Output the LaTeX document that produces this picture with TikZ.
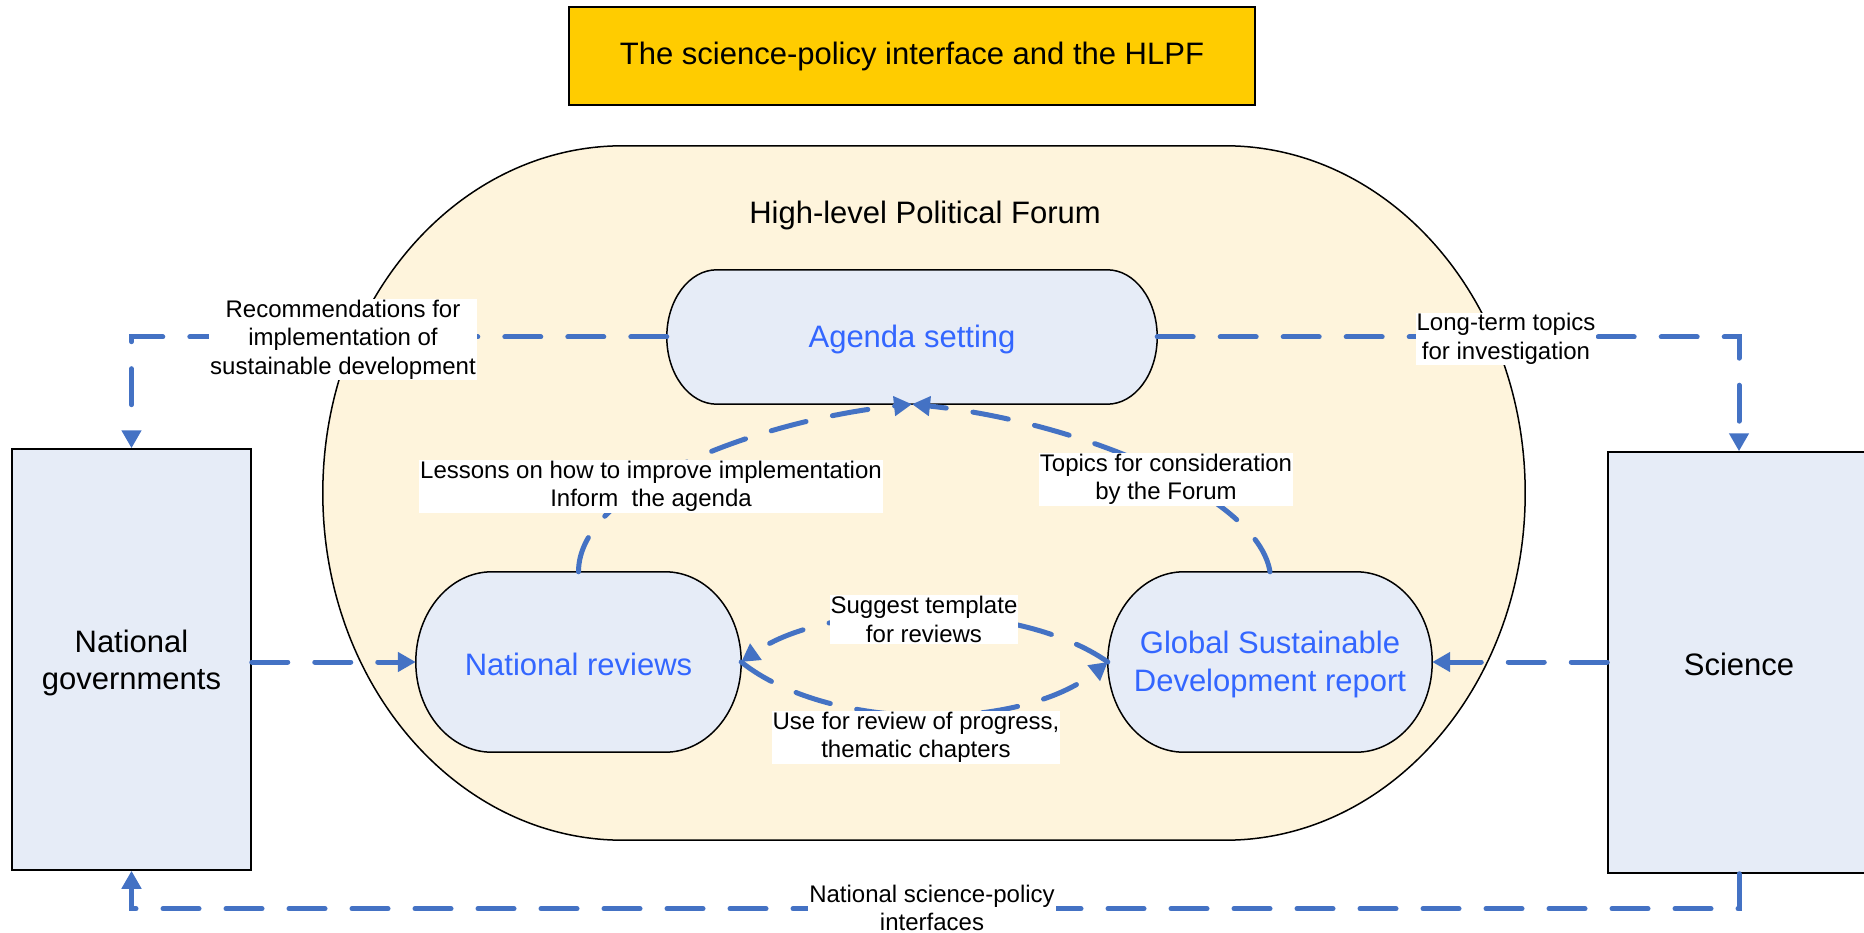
\documentclass[tikz,border=0pt]{standalone}
\usepackage{fontspec}
\setmainfont{Liberation Sans}
\usetikzlibrary{arrows.meta,calc,backgrounds}
\definecolor{lineblue}{RGB}{68,114,196}
\definecolor{txtblue}{RGB}{51,102,255}
\definecolor{boxfill}{RGB}{230,236,247}
\definecolor{forumfill}{RGB}{254,244,220}
\definecolor{titlefill}{RGB}{255,204,0}
\newcommand\mybig{\fontsize{31}{37.5}\selectfont}
\newcommand\mylbl{\fontsize{24}{28.5}\selectfont}
% elliptical-cornered box around a node: #1 style, #2 node, #3 rx, #4 ry
\newcommand\ellbox[4][]{%
  \path[#1] ($(#2.north west)+(#3,0)$) -- ($(#2.north east)+(-#3,0)$)
    arc[start angle=270,end angle=360,x radius=#3,y radius=#4]
    -- ($(#2.south east)+(0,-#4)$)
    arc[start angle=0,end angle=90,x radius=#3,y radius=#4]
    -- ($(#2.south west)+(#3,0)$)
    arc[start angle=90,end angle=180,x radius=#3,y radius=#4]
    -- ($(#2.north west)+(0,#4)$)
    arc[start angle=180,end angle=270,x radius=#3,y radius=#4] -- cycle;}
\begin{document}
\begin{tikzpicture}[x=1pt,y=-1pt,
  conn/.style={draw=lineblue,line width=5pt,line cap=round,
    dash pattern=on 36pt off 27pt,-{Triangle[length=18pt,width=19pt]}},
  lbl/.style={fill=white,inner sep=1pt,align=center,font=\mylbl},
  frame/.style={rectangle,inner sep=0pt},
  proctext/.style={align=center,font=\mybig,text=txtblue},
  sidetext/.style={align=center,font=\mybig},
  shapeline/.style={draw=black,line width=1.5pt,fill=boxfill},
  sidebox/.style={rectangle,draw=black,line width=1.5pt,fill=boxfill,inner sep=0pt}]
\useasboundingbox (0,0) rectangle (1864,933);

% title
\node[rectangle,draw=black,line width=1.5pt,fill=titlefill,font=\mybig,
  minimum width=686pt,minimum height=98pt] (title) at (912,56)
  {The science-policy interface and the HLPF};

% forum container
\node[frame,minimum width=1202pt,minimum height=694pt] (hlpf) at (924,493) {};
\node[sidetext] (hlpftext) at (925,215) {High-level Political Forum};

% process nodes (frame + text)
\node[frame,minimum width=490pt,minimum height=134pt] (agenda) at (912,337) {};
\node[proctext] (agendatext) at (912,339.5) {Agenda setting};
\node[frame,minimum width=325pt,minimum height=180pt] (nr) at (578.5,662) {};
\node[proctext] (nrtext) at (578.5,664.5) {National reviews};
\node[frame,minimum width=324pt,minimum height=180pt] (gsdr) at (1270,662) {};
\node[proctext] (gsdrtext) at (1270,664.5) {Global Sustainable\\Development report};

% side boxes
\node[sidebox,minimum width=239pt,minimum height=421pt] (ng) at (131.5,659.5) {};
\node[sidetext] (ngtext) at (131.5,663) {National\\governments};
\node[sidebox,minimum width=262pt,minimum height=421pt] (sci) at (1739,662.5) {};
\node[sidetext] (scitext) at (1739,664) {Science};

\begin{scope}[on background layer]
  \ellbox[draw=black,line width=1.5pt,fill=forumfill]{hlpf}{300}{347}
  \ellbox[shapeline]{agenda}{50}{67}
  \ellbox[shapeline]{nr}{76}{90}
  \ellbox[shapeline]{gsdr}{76}{90}
\end{scope}

% connectors
\draw[conn] (agenda.west) -| (ng.north);
\draw[conn] (agenda.east) -| (sci.north);
\draw[conn] (ng.east |- nr.west) -- (nr.west);
\draw[conn] (sci.west |- gsdr.east) -- (gsdr.east);
\draw[conn] (sci.south) -- ++(0,35) -| (ng.south);
\draw[conn] (nr.north) .. controls +(0,-85) and +(-152,16) .. (agenda.south);
\draw[conn] (gsdr.north) .. controls +(-12,-75) and +(170,18) .. (agenda.south);
\draw[conn] (gsdr.west) .. controls +(-88,-62) and +(88,-62) .. (nr.east);
\draw[conn] (nr.east) .. controls +(88,70) and +(-88,70) .. (gsdr.west);

% labels
\node[lbl] (lrec) at (343,339.5) {Recommendations for\\implementation of\\sustainable development};
\node[lbl] (llong) at (1506,339) {Long-term topics\\ for investigation};
\node[lbl] (lles) at (651,486.5) {Lessons on how to improve implementation\\Inform\ \ the agenda};
\node[lbl] (ltop) at (1166,479.5) {Topics for consideration\\by the Forum};
\node[lbl] (lsug) at (924,619.5) {Suggest template\\for reviews};
\node[lbl] (luse) at (916,737.5) {Use for review of progress,\\thematic chapters};
\node[lbl] (lnat) at (932,908) {National science-policy\\interfaces};
\end{tikzpicture}
\end{document}
